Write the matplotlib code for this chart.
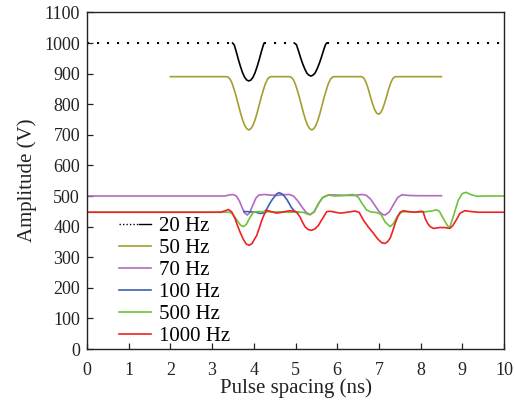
import numpy as np
import matplotlib
matplotlib.use("Agg")
import matplotlib.pyplot as plt
from matplotlib.lines import Line2D
from matplotlib.legend_handler import HandlerBase

plt.rcParams['font.family'] = ['Liberation Serif', 'DejaVu Serif']

# ---------------- data ----------------
labels = ["20 Hz", "50 Hz", "70 Hz", "100 Hz", "500 Hz", "1000 Hz"]

x20 = [0, 3.49, 3.53, 3.58, 3.63, 3.68, 3.73, 3.78, 3.83, 3.88, 3.93, 3.98, 4.03, 4.08, 4.13, 4.18, 4.23, 4.25,
       4.97, 5.02, 5.07, 5.12, 5.17, 5.22, 5.27, 5.32, 5.37, 5.42, 5.47, 5.52, 5.57, 5.62, 5.67, 5.72, 5.75, 10]
y20 = [1000, 1000, 994, 971, 946, 923, 903, 888, 879, 876, 879, 888, 903, 923, 946, 971, 994, 1000,
       1000, 995, 975, 953, 933, 916, 902, 895, 892, 895, 902, 916, 933, 953, 975, 995, 1000, 1000]

x50 = [2.0, 3.33, 3.38, 3.43, 3.48, 3.53, 3.58, 3.63, 3.68, 3.73, 3.78, 3.83, 3.88,
       3.93, 3.98, 4.03, 4.08, 4.13, 4.18, 4.23, 4.28, 4.33, 4.38, 4.43,
       4.84, 4.89, 4.94, 4.99, 5.04, 5.09, 5.14, 5.19, 5.24, 5.29, 5.34, 5.39,
       5.44, 5.49, 5.54, 5.59, 5.64, 5.69, 5.74, 5.79, 5.84, 5.89, 5.94,
       6.59, 6.64, 6.69, 6.74, 6.79, 6.84, 6.89, 6.94, 6.99,
       7.04, 7.09, 7.14, 7.19, 7.24, 7.29, 7.34, 7.39, 8.5]
y50 = [890, 890, 889, 882, 868, 847, 824, 798, 772, 749, 731, 720, 716,
       720, 731, 749, 772, 798, 824, 847, 868, 882, 889, 890,
       890, 889, 882, 868, 847, 824, 798, 772, 749, 731, 720, 716,
       720, 731, 749, 772, 798, 824, 847, 868, 882, 889, 890,
       890, 885, 872, 852, 828, 805, 785, 772, 767,
       772, 785, 805, 828, 852, 872, 885, 890, 890]

x70 = [0, 3.3, 3.4, 3.5, 3.58, 3.65, 3.72, 3.78, 3.84, 3.9, 3.97, 4.05, 4.12, 4.25, 4.4, 4.55, 4.7, 4.85,
       4.95, 5.05, 5.15, 5.25, 5.35, 5.45, 5.55, 5.65, 5.8, 6.0, 6.2, 6.4, 6.6, 6.7, 6.8, 6.9, 7.0,
       7.1, 7.15, 7.25, 7.35, 7.45, 7.55, 7.7, 7.9, 8.5]
y70 = [500, 500, 503, 505, 500, 485, 462, 445, 438, 445, 468, 493, 503, 505, 503, 502, 504, 505,
       500, 485, 465, 447, 439, 448, 475, 495, 504, 503, 502, 502, 505, 502, 490, 470, 450,
       439, 438, 448, 472, 495, 504, 502, 501, 501]

x100 = [3.76, 3.85, 3.95, 4.05, 4.15, 4.22, 4.3, 4.38, 4.45, 4.55, 4.61, 4.7, 4.8, 4.9, 4.99, 5.08]
y100 = [449, 449, 448, 447, 443, 444, 455, 475, 490, 507, 511, 505, 487, 463, 448, 447]

x500 = [0, 3.43, 3.5, 3.6, 3.68, 3.75, 3.82, 3.9, 3.99, 4.1, 4.5, 5.15, 5.2, 5.3, 5.35, 5.45, 5.55,
        5.65, 5.79, 5.95, 6.1, 6.25, 6.38, 6.5, 6.6, 6.7, 6.8, 6.95, 7.05, 7.15, 7.27, 7.35, 7.45,
        7.55, 7.7, 7.9, 8.1, 8.3, 8.38, 8.45, 8.55, 8.65, 8.7, 8.8, 8.9, 9.0, 9.09, 9.2, 9.35, 9.5, 10]
y500 = [447, 447, 440, 420, 405, 400, 407, 428, 447, 449, 448, 447, 446, 440, 439, 450, 475,
        495, 503, 500, 501, 503, 505, 497, 475, 455, 448, 446, 440, 415, 400, 410, 435,
        448, 449, 447, 448, 452, 455, 450, 425, 402, 398, 440, 485, 508, 512, 505, 499, 500, 500]

x1000 = [0, 3.2, 3.3, 3.39, 3.47, 3.55, 3.61, 3.67, 3.75, 3.82, 3.89, 3.96, 4.02, 4.07, 4.13, 4.19, 4.25,
         4.31, 4.42, 4.55, 4.71, 4.87, 4.99, 5.05, 5.11, 5.17, 5.23, 5.31, 5.39, 5.47, 5.55, 5.61, 5.67,
         5.75, 5.85, 5.95, 6.07, 6.25, 6.43, 6.53, 6.63, 6.75, 6.87, 6.97, 7.07, 7.15, 7.21, 7.27, 7.33,
         7.39, 7.45, 7.51, 7.59, 7.7, 7.86, 8.0, 8.06, 8.11, 8.17, 8.23, 8.31, 8.46, 8.58, 8.7, 8.77,
         8.83, 8.89, 8.94, 9.06, 9.22, 9.4, 10]
y1000 = [447, 447, 451, 456, 448, 426, 403, 382, 358, 343, 339, 345, 360, 371, 395, 420, 440,
         453, 449, 444, 448, 452, 450, 443, 431, 414, 399, 390, 388, 393, 404, 418, 431,
         449, 450, 447, 444, 447, 451, 446, 421, 398, 378, 360, 347, 345, 351, 362, 385,
         411, 432, 447, 452, 449, 447, 450, 449, 427, 410, 400, 394, 397, 397, 394, 403,
         416, 430, 443, 452, 449, 447, 447]

colors = ["black", "#a59d32", "#b468c2", "#3a62b0", "#6cc23a", "#ee2222"]

x_ticks = list(range(0, 11))
y_ticks = list(range(0, 1101, 100))

# ---------------- figure ----------------
fig = plt.figure(figsize=(5.15, 4.07), dpi=100)
ax = fig.add_axes([0.169, 0.1425, 0.8096, 0.827])

lw = 1.2
x20a = np.array(x20, float)
y20a = np.array(y20, float)
flat = y20a >= 1000
# dotted baseline (only flat parts)
ax.plot(x20a, np.where(flat, y20a, np.nan), color=colors[0], lw=1.5, linestyle=(0, (1, 3.8)))
# solid dips: each run of points below 1000 plus its two neighbours
dip_idx = np.where(~flat)[0]
runs = np.split(dip_idx, np.where(np.diff(dip_idx) > 1)[0] + 1)
for r in runs:
    i0, i1 = max(r[0] - 1, 0), min(r[-1] + 2, len(x20a))
    ax.plot(x20a[i0:i1], y20a[i0:i1], color=colors[0], lw=lw)

ax.plot(x50, y50, color=colors[1], lw=lw)
ax.plot(x70, y70, color=colors[2], lw=lw)
ax.plot(x100, y100, color=colors[3], lw=lw)
ax.plot(x500, y500, color=colors[4], lw=lw)
ax.plot(x1000, y1000, color=colors[5], lw=lw)


class DotSolidHandler(HandlerBase):
    def create_artists(self, legend, orig_handle, xdescent, ydescent, width, height, fontsize, trans):
        y = height / 2 - ydescent
        x0 = -xdescent
        xm = x0 + width * 0.6
        l1 = Line2D([x0, xm], [y, y], color='black', lw=1.0, linestyle=(0, (1, 1.5)), transform=trans)
        l2 = Line2D([xm, x0 + width], [y, y], color='black', lw=1.0, transform=trans)
        return [l1, l2]


handles = [Line2D([], [], color=c, lw=lw) for c in colors]
handler_map = {handles[0]: DotSolidHandler()}
leg = ax.legend(handles, labels, loc='upper left', bbox_to_anchor=(0.077, 0.394),
                frameon=False, fontsize=15, handlelength=1.55, handletextpad=0.38,
                labelspacing=0.12, borderpad=0, borderaxespad=0, handler_map=handler_map)

ax.set_xlim(0, 10)
ax.set_ylim(0, 1100)
ax.set_xticks(x_ticks)
ax.set_yticks(y_ticks)
ax.tick_params(direction='in', length=4, width=0.9, labelsize=13, colors='#222222')
ax.tick_params(axis='x', pad=9)
ax.tick_params(axis='y', pad=5)
for s in ax.spines.values():
    s.set_linewidth(1.0)
    s.set_color('#222222')

ax.set_xlabel("Pulse spacing (ns)", fontsize=15, labelpad=0, color='#222222')
ax.set_ylabel("Amplitude (V)", fontsize=15, labelpad=5, color='#222222')

fig.savefig("out.png", dpi=100)
